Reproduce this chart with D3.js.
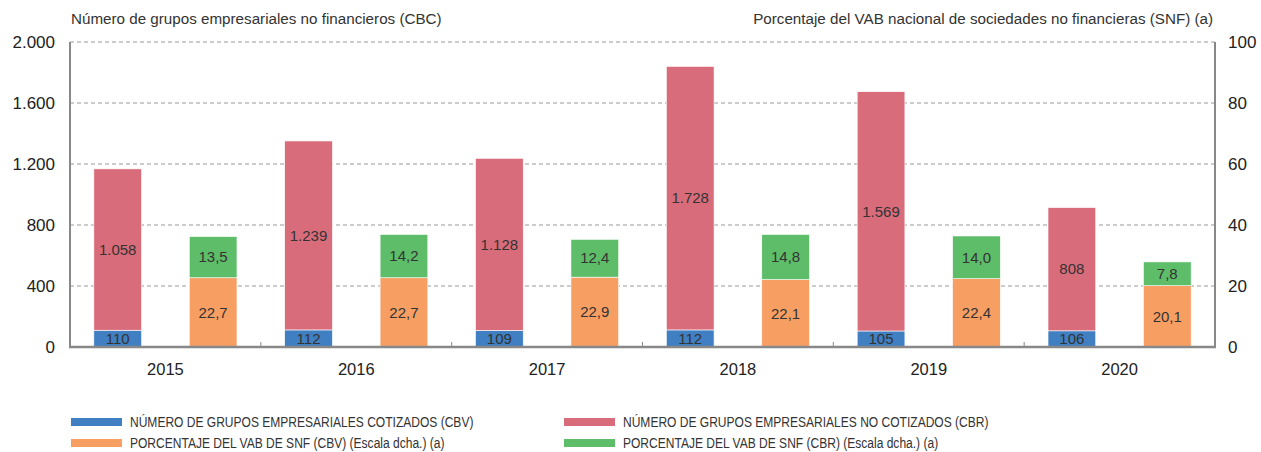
<!DOCTYPE html>
<html><head>
<meta charset="utf-8">
<script src="https://d3js.org/d3.v7.min.js"></script>
<style>
  body { margin: 0; background: #fff; }
  text { font-family: 'Liberation Sans', Arial, sans-serif; fill: #222; }
  .gridline { stroke: #999; stroke-width: 1; stroke-dasharray: 4,3; }
  .legend text { font-size: 14.5px; fill: #333; }
</style>
</head>
<body>
<svg id="chart" width="1261" height="452"></svg>
<script>
// data
const years = ["2015", "2016", "2017", "2018", "2019", "2020"];
const cotizados = [110, 112, 109, 112, 105, 106];
const noCotizados = [1058, 1239, 1128, 1728, 1569, 808];
const pctCBV = [22.7, 22.7, 22.9, 22.1, 22.4, 20.1];
const pctCBR = [13.5, 14.2, 12.4, 14.8, 14.0, 7.8];
const leftTicks = [0, 400, 800, 1200, 1600, 2000];
const rightTicks = [0, 20, 40, 60, 80, 100];

const colors = { cbv: "#3f7fc2", cbr: "#d96c7b", pcbv: "#f79f63", pcbr: "#5ebd69" };

const svg = d3.select("#chart");
const margin = { top: 42, right: 46, bottom: 105, left: 70 };
const width = +svg.attr("width");
const height = +svg.attr("height");
const x0 = margin.left, x1 = width - margin.right;
const y0 = height - margin.bottom, y1 = margin.top;

const x = d3.scaleBand().domain(years).range([x0, x1]);
const yL = d3.scaleLinear().domain([0, 2000]).range([y0, y1]);
const yR = d3.scaleLinear().domain([0, 100]).range([y0, y1]);
const fmt = d3.formatLocale({ decimal: ",", thousands: ".", grouping: [3], currency: ["", "€"] });
const fInt = fmt.format(",d");
const fDec = fmt.format(".1f");

// gridlines
svg.append("g").selectAll("line").data(leftTicks.filter(d => d > 0))
  .join("line").attr("class", "gridline")
  .attr("x1", x0).attr("x2", x1)
  .attr("y1", d => yL(d)).attr("y2", d => yL(d));

// tick labels
svg.append("g").selectAll("text").data(leftTicks).join("text")
  .attr("x", 55).attr("y", d => yL(d)).attr("dy", "0.35em")
  .attr("text-anchor", "end").style("font-size", "17px")
  .text(d => fInt(d));
svg.append("g").selectAll("text").data(rightTicks).join("text")
  .attr("x", x1 + 13).attr("y", d => yR(d)).attr("dy", "0.35em")
  .attr("text-anchor", "start").style("font-size", "17px")
  .text(d => d);

// titles
svg.append("text").attr("x", 71).attr("y", 24).style("font-size", "15.2px").style("fill", "#333")
  .text("Número de grupos empresariales no financieros (CBC)");
svg.append("text").attr("x", x1 - 2).attr("y", 24).attr("text-anchor", "end").style("font-size", "15.2px").style("fill", "#333")
  .text("Porcentaje del VAB nacional de sociedades no financieras (SNF) (a)");

const slot = x.bandwidth() / 4;
const rows = years.map((yr, i) => ({ yr, i }));

function segment(xOff, yScale, lo, hi, color, label) {
  const g = svg.append("g");
  g.selectAll("rect").data(rows).join("rect")
    .attr("x", d => x(d.yr) + xOff)
    .attr("width", slot)
    .attr("y", d => yScale(hi(d.i)))
    .attr("height", d => yScale(lo(d.i)) - yScale(hi(d.i)))
    .attr("fill", color)
    .attr("stroke", "#fff").attr("stroke-width", 0.6);
  g.selectAll("text").data(rows).join("text")
    .attr("x", d => x(d.yr) + xOff + slot / 2)
    .attr("y", d => (yScale(lo(d.i)) + yScale(hi(d.i))) / 2)
    .attr("dy", "0.35em").attr("text-anchor", "middle")
    .style("font-size", "15px").style("fill", "#333")
    .text(d => label(d.i));
}

segment(slot * 0.5, yL, i => 0, i => cotizados[i], colors.cbv, i => fInt(cotizados[i]));
segment(slot * 0.5, yL, i => cotizados[i], i => cotizados[i] + noCotizados[i], colors.cbr, i => fInt(noCotizados[i]));
segment(slot * 2.5, yR, i => 0, i => pctCBV[i], colors.pcbv, i => fDec(pctCBV[i]));
segment(slot * 2.5, yR, i => pctCBV[i], i => pctCBV[i] + pctCBR[i], colors.pcbr, i => fDec(pctCBR[i]));

// axes lines
svg.append("line").attr("x1", x0).attr("x2", x0).attr("y1", y1).attr("y2", y0)
  .attr("stroke", "#888").attr("stroke-width", 2);
svg.append("line").attr("x1", x1).attr("x2", x1).attr("y1", y1).attr("y2", y0)
  .attr("stroke", "#888").attr("stroke-width", 2);
svg.append("line").attr("x1", x0 - 1).attr("x2", x1 + 1).attr("y1", y0).attr("y2", y0)
  .attr("stroke", "#888").attr("stroke-width", 2.5);
// small ticks between years
svg.append("g").selectAll("line").data(years.slice(1)).join("line")
  .attr("x1", d => x(d)).attr("x2", d => x(d))
  .attr("y1", y0).attr("y2", y0 - 5)
  .attr("stroke", "#888").attr("stroke-width", 1);

// year labels
svg.append("g").selectAll("text").data(years).join("text")
  .attr("x", d => x(d) + x.bandwidth() / 2).attr("y", 369).attr("dy", "0.35em")
  .attr("text-anchor", "middle").style("font-size", "16.5px")
  .text(d => d);

// legend
const legendItems = [
  { label: "NÚMERO DE GRUPOS EMPRESARIALES COTIZADOS (CBV)", color: colors.cbv, col: 0, row: 0 },
  { label: "NÚMERO DE GRUPOS EMPRESARIALES NO COTIZADOS (CBR)", color: colors.cbr, col: 1, row: 0 },
  { label: "PORCENTAJE DEL VAB DE SNF (CBV) (Escala dcha.) (a)", color: colors.pcbv, col: 0, row: 1 },
  { label: "PORCENTAJE DEL VAB DE SNF (CBR) (Escala dcha.) (a)", color: colors.pcbr, col: 1, row: 1 }
];
const legend = svg.append("g").attr("class", "legend")
  .selectAll("g").data(legendItems).join("g")
  .attr("transform", d => `translate(${71 + d.col * 493},${422 + d.row * 21})`);
legend.append("rect").attr("x", 0).attr("y", -4).attr("width", 51).attr("height", 8).attr("fill", d => d.color);
// condensed look: squeeze the text horizontally
legend.append("text").attr("transform", "translate(59,0) scale(0.83,1)")
  .attr("dy", "0.35em").text(d => d.label);
</script>
</body>
</html>
